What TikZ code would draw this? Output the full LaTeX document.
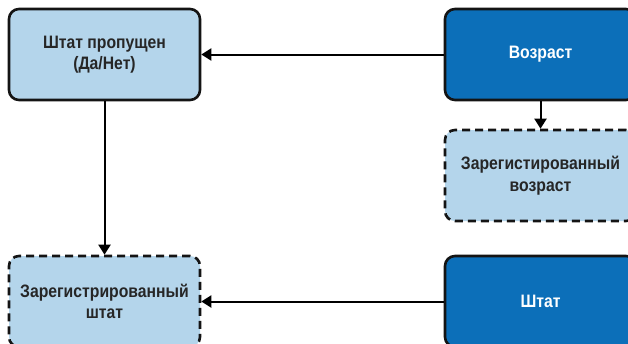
\documentclass[tikz,border=0pt]{standalone}
\usepackage{fontspec}
\setmainfont{Liberation Sans}[FakeStretch=0.875]
\usetikzlibrary{arrows.meta}
\definecolor{lightfill}{RGB}{180,213,235}
\definecolor{darkfill}{RGB}{12,111,185}
\definecolor{edge}{RGB}{20,20,20}
\tikzset{
  box/.style={draw=edge, line width=2.6pt, rounded corners=10pt,
    minimum width=191pt, minimum height=91pt, align=center,
    font=\fontsize{18}{21.5}\selectfont\bfseries, inner sep=0pt},
  lightbox/.style={box, fill=lightfill, text=black!85},
  derived/.style={lightbox, dash pattern=on 8pt off 5pt},
  varbox/.style={box, fill=darkfill, text=white},
  link/.style={draw=black, line width=2pt, -{Triangle[length=10pt,width=12pt]}}
}
\begin{document}
\begin{tikzpicture}[x=1pt,y=-1pt]
  \clip (0,0) rectangle (628,343);
  \fill[white] (0,0) rectangle (628,343);
  % state-skipped indicator and the registered state
  \node[lightbox] (skip) at (104.5,54.5) {Штат пропущен\\(Да/Нет)};
  \node[derived] (regstate) at (104.5,301.5) {Зарегистрированный\\штат};
  % age and the registered age
  \node[varbox] (age) at (540.5,54.5) {Возраст};
  \node[derived] (regage) at (540.5,175.5) {Зарегистированный\\возраст};
  \node[varbox] (state) at (540.5,301.5) {Штат};
  % connectors
  \draw[link] (age) -- (skip);
  \draw[link] (age) -- (regage);
  \draw[link] (skip) -- (regstate);
  \draw[link] (state) -- (regstate);
\end{tikzpicture}
\end{document}
